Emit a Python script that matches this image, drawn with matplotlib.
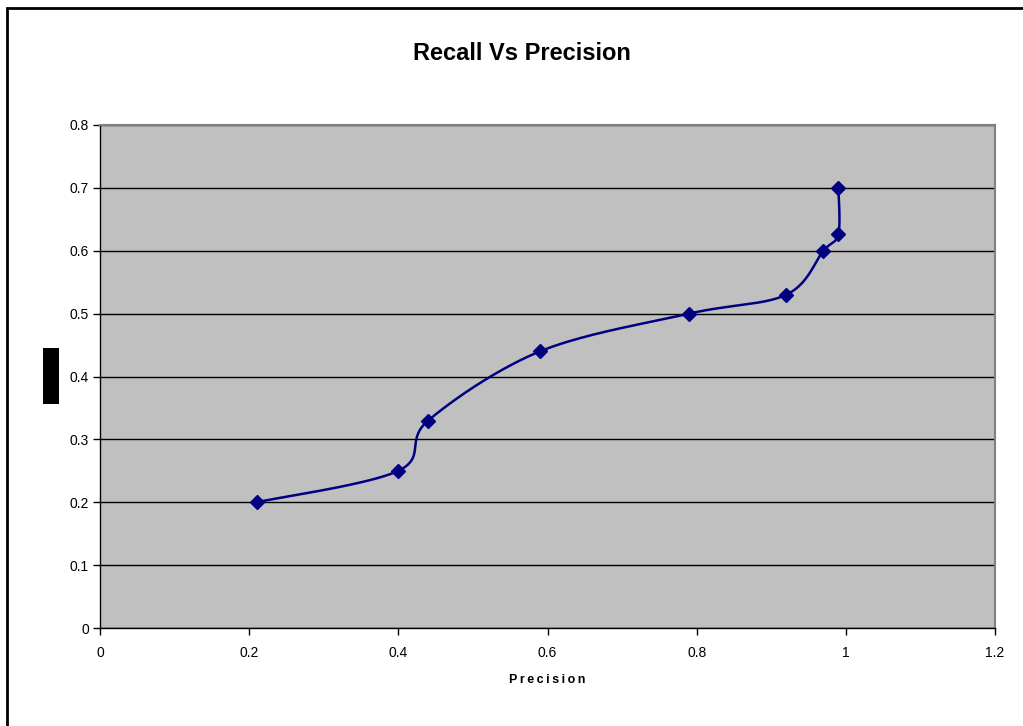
import numpy as np
import matplotlib
matplotlib.use("Agg")
import matplotlib.pyplot as plt
from matplotlib.patches import Rectangle

precision = [0.21, 0.40, 0.44, 0.59, 0.79, 0.92, 0.97, 0.99, 0.99]
recall = [0.20, 0.25, 0.33, 0.44, 0.50, 0.53, 0.60, 0.627, 0.70]
x_ticks = [0, 0.2, 0.4, 0.6, 0.8, 1.0, 1.2]
x_tick_labels = ["0", "0.2", "0.4", "0.6", "0.8", "1", "1.2"]
y_ticks = [0, 0.1, 0.2, 0.3, 0.4, 0.5, 0.6, 0.7, 0.8]
y_tick_labels = ["0", "0.1", "0.2", "0.3", "0.4", "0.5", "0.6", "0.7", "0.8"]

plt.rcParams['font.family'] = ['Liberation Sans', 'DejaVu Sans']

W, H = 1023, 726
fig = plt.figure(figsize=(W / 100, H / 100), dpi=100)
ax = fig.add_axes([100 / W, (H - 628) / H, 895 / W, 503 / H])
ax.set_facecolor('#C0C0C0')
ax.set_xlim(0, 1.2)
ax.set_ylim(0, 0.8)
ax.set_xticks(x_ticks)
ax.set_xticklabels(x_tick_labels)
ax.set_yticks(y_ticks)
ax.set_yticklabels(y_tick_labels)
ax.tick_params(direction='out', length=5, width=1, labelsize=10, colors='black')
ax.tick_params(axis='x', pad=8)
ax.tick_params(axis='y', pad=3)
ax.yaxis.grid(True, color='black', linewidth=1)
ax.set_axisbelow(True)
for s in ['top', 'right']:
    ax.spines[s].set_color('#808080')
    ax.spines[s].set_linewidth(1.5)
for s in ['left', 'bottom']:
    ax.spines[s].set_color('black')
    ax.spines[s].set_linewidth(1)

# Excel-style smoothed line: Catmull-Rom Bezier in display space
fig.canvas.draw()
pts = ax.transData.transform(np.column_stack([precision, recall]))
n = len(pts)
curve = []
for i in range(n - 1):
    p0 = pts[max(i - 1, 0)]
    p1 = pts[i]
    p2 = pts[i + 1]
    p3 = pts[min(i + 2, n - 1)]
    c1 = p1 + (p2 - p0) / 6.0
    c2 = p2 - (p3 - p1) / 6.0
    t = np.linspace(0, 1, 40)[:, None]
    seg = ((1 - t) ** 3) * p1 + 3 * ((1 - t) ** 2) * t * c1 + 3 * (1 - t) * t ** 2 * c2 + t ** 3 * p2
    curve.append(seg if i == 0 else seg[1:])
curve = np.vstack(curve)
curve_data = ax.transData.inverted().transform(curve)
ax.plot(curve_data[:, 0], curve_data[:, 1], color='#000080', linewidth=1.8, zorder=3)
ax.plot(precision, recall, linestyle='none', marker='D', markersize=7,
        color='#000080', zorder=4)

fig.text(522 / W, 1 - 53 / H, "Recall Vs Precision", ha='center', va='center',
         fontsize=17, fontweight='bold')
fig.text(547 / W, 1 - 680 / H, "\u2009".join("Precision"), ha='center', va='center',
         fontsize=9, fontweight='bold')

# black box where the y label was
fig.patches.append(Rectangle((43 / W, 1 - 404 / H), 16 / W, 56 / H,
                             transform=fig.transFigure, facecolor='black',
                             edgecolor='none'))
# outer frame
fig.patches.append(Rectangle((7 / W, -0.1), 1.2, 1 - 8 / H + 0.1,
                             transform=fig.transFigure, facecolor='none',
                             edgecolor='black', linewidth=2))

fig.savefig("out.png", dpi=100)
